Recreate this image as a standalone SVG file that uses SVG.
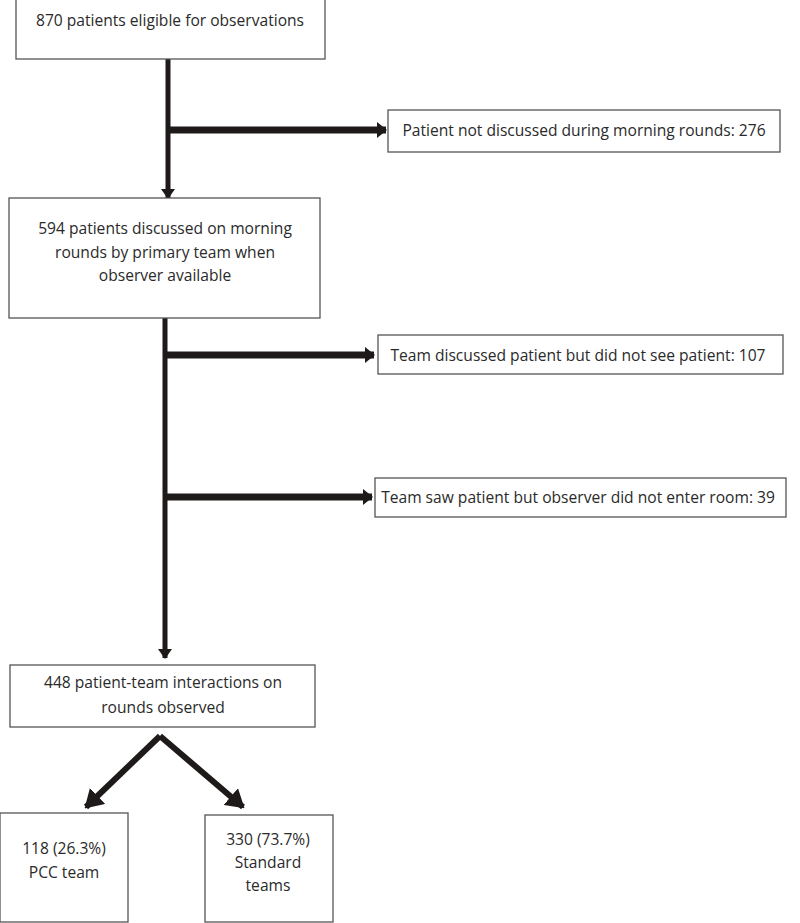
<svg xmlns="http://www.w3.org/2000/svg" width="800" height="923" viewBox="0 0 800 923">
<style>
.box{fill:#fff;stroke:#555;stroke-width:1.3}
.t{font-family:"Open Sans","Liberation Sans",sans-serif;font-size:15.6px;fill:#2a2a2a;text-anchor:middle;dominant-baseline:central}
.ln{stroke:#1e1a1a;fill:none}
</style>
<defs>
<marker id="ah" markerUnits="userSpaceOnUse" markerWidth="10" markerHeight="16" refX="9" refY="8" orient="auto"><path d="M0,0 L10,8 L0,16 Z" fill="#1e1a1a"/></marker>
<marker id="av" markerUnits="userSpaceOnUse" markerWidth="10" markerHeight="14" refX="9" refY="7" orient="auto"><path d="M0,0 L10,7 L0,14 Z" fill="#1e1a1a"/></marker>
<marker id="ad" markerUnits="userSpaceOnUse" markerWidth="18" markerHeight="22" refX="16" refY="11" orient="auto"><path d="M0,0 L18,11 L0,22 Z" fill="#1e1a1a"/></marker>
</defs>
<g id="connectors">
<line class="ln" x1="168" y1="59" x2="168" y2="198" stroke-width="5" marker-end="url(#av)"/>
<line class="ln" x1="166" y1="130" x2="386" y2="130" stroke-width="7" marker-end="url(#ah)"/>
<line class="ln" x1="165" y1="318" x2="165" y2="658" stroke-width="5" marker-end="url(#av)"/>
<line class="ln" x1="163" y1="355" x2="374" y2="355" stroke-width="7" marker-end="url(#ah)"/>
<line class="ln" x1="163" y1="497" x2="372" y2="497" stroke-width="7" marker-end="url(#ah)"/>
<line class="ln" x1="160" y1="736" x2="86" y2="807" stroke-width="6" marker-end="url(#ad)"/>
<line class="ln" x1="160" y1="736" x2="243" y2="807" stroke-width="6" marker-end="url(#ad)"/>
</g>
<g id="n1"><rect class="box" x="16" y="-1" width="309" height="60"/><text class="t" x="170" y="20">870 patients eligible for observations</text></g>
<g id="n2"><rect class="box" x="388" y="110" width="392" height="42"/><text class="t" x="584" y="130">Patient not discussed during morning rounds: 276</text></g>
<g id="n3"><rect class="box" x="9" y="198" width="311" height="120"/><text class="t" x="165" y="228">594 patients discussed on morning</text><text class="t" x="165" y="252">rounds by primary team when</text><text class="t" x="165" y="275">observer available</text></g>
<g id="n4"><rect class="box" x="378" y="335" width="405" height="39"/><text class="t" x="578" y="355">Team discussed patient but did not see patient: 107</text></g>
<g id="n5"><rect class="box" x="375" y="478" width="411" height="39"/><text class="t" x="578" y="497">Team saw patient but observer did not enter room: 39</text></g>
<g id="n6"><rect class="box" x="10" y="665" width="305" height="62"/><text class="t" x="163" y="682">448 patient-team interactions on</text><text class="t" x="163" y="707">rounds observed</text></g>
<g id="n7"><rect class="box" x="0" y="813" width="128" height="109"/><text class="t" x="64" y="848">118 (26.3%)</text><text class="t" x="64" y="872">PCC team</text></g>
<g id="n8"><rect class="box" x="205" y="815" width="128" height="107"/><text class="t" x="268" y="839">330 (73.7%)</text><text class="t" x="268" y="862">Standard</text><text class="t" x="268" y="885">teams</text></g>
</svg>
